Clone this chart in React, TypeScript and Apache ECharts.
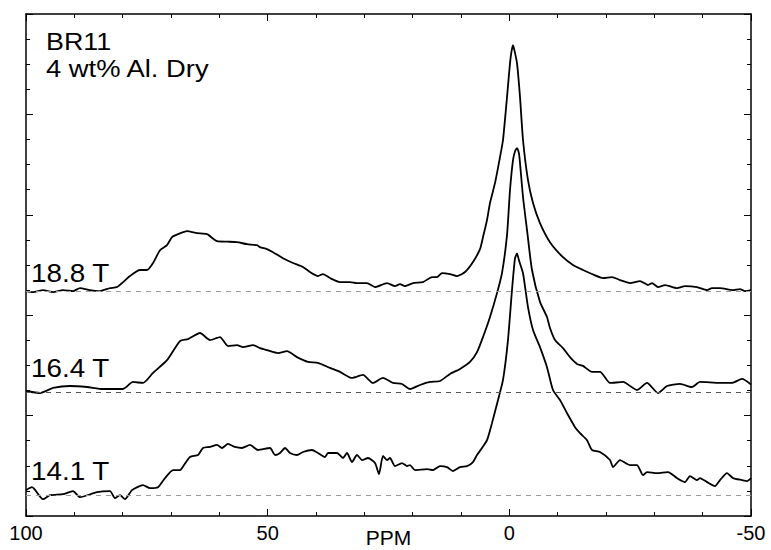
import React, { useEffect, useRef } from "react";
import * as echarts from "echarts";

const FONT = "Liberation Sans, Arial, Helvetica, sans-serif";

const seriesNames = ["18.8 T", "16.4 T", "14.1 T"];
const baselineOffsets = [8.96, 4.94, 0.81];
const xTickLabels = [100, 50, 0, -50];

const ppm188 = [100, 98.55, 96.48, 94.41, 92.34, 90.28, 88.83, 86.76, 84.69, 82.62, 81.17, 78.48, 76.41, 74.97, 73.72, 72.27, 70.83, 69.79, 68.55, 66.69, 64.62, 62.55, 60.48, 58.41, 56.34, 54.28, 52.21, 51.59, 50.14, 48.9, 46.83, 44.76, 42.69, 41.24, 39.59, 38.55, 37.1, 35.03, 32.96, 31.52, 29.45, 27.79, 25.31, 23.66, 22.62, 21.59, 19.93, 17.86, 16.0, 14.97, 13.93, 12.28, 10.83, 9.17, 7.52, 6.07, 5.45, 4.62, 4.0, 2.97, 1.93, 1.31, 0.48, -0.14, -0.45, -0.76, -1.1, -1.59, -2.21, -2.83, -3.86, -4.9, -6.34, -8.41, -11.1, -13.17, -15.24, -17.1, -19.38, -21.24, -22.9, -24.97, -27.03, -28.69, -29.52, -30.76, -32.21, -34.69, -36.34, -38.83, -40.9, -41.93, -43.59, -46.28, -47.72, -48.76, -50];
const int188 = [0, -0.04, 0.04, -0.04, 0.04, 0, 0.12, 0.04, 0, 0.12, 0.16, 0.6, 0.84, 0.84, 1.12, 1.63, 1.83, 2.15, 2.27, 2.39, 2.31, 2.27, 1.99, 1.97, 1.95, 1.87, 1.83, 1.75, 1.67, 1.55, 1.31, 1.12, 0.96, 0.76, 0.6, 0.68, 0.52, 0.36, 0.36, 0.32, 0.32, 0.16, 0.32, 0.2, 0.28, 0.2, 0.32, 0.36, 0.56, 0.56, 0.72, 0.68, 0.6, 0.76, 1.16, 1.67, 2.15, 2.83, 3.51, 4.3, 5.34, 6.02, 7.73, 9.08, 9.55, 9.8, 9.55, 9.08, 7.73, 6.02, 4.42, 3.51, 2.71, 1.95, 1.35, 1.04, 0.84, 0.68, 0.52, 0.56, 0.44, 0.32, 0.4, 0.24, 0.32, 0.16, 0.24, 0.12, 0.2, 0.16, 0.04, 0.12, 0.12, 0.04, 0.08, 0, 0.04];

const ppm164 = [100, 97.1, 94.41, 90.9, 87.38, 84.07, 79.93, 77.86, 75.79, 73.72, 70.83, 68.14, 66.48, 64.0, 61.93, 59.86, 58.21, 56.34, 55.1, 53.03, 51.59, 50.14, 47.86, 46.0, 43.93, 41.66, 39.59, 37.1, 35.03, 32.55, 30.28, 28.21, 26.14, 24.07, 22.21, 20.55, 18.48, 16.41, 14.34, 12.28, 10.21, 8.14, 6.69, 5.45, 4.0, 2.55, 1.52, 0.48, -0.14, -0.76, -1.2, -1.59, -2.0, -2.21, -2.83, -3.66, -4.69, -6.34, -7.79, -8.41, -9.45, -11.1, -12.55, -14.0, -15.24, -17.1, -18.76, -20.83, -23.52, -26.41, -28.48, -30.76, -32.62, -35.31, -37.79, -39.45, -43.59, -46.07, -48.14, -50];
const int164 = [0.04, -0.04, 0.16, 0.24, 0.2, 0.12, 0.12, 0.4, 0.36, 0.76, 1.27, 2.03, 2.11, 2.35, 2.07, 2.19, 1.83, 1.87, 1.79, 1.87, 1.75, 1.67, 1.55, 1.63, 1.39, 1.2, 1.16, 0.96, 0.8, 0.56, 0.68, 0.36, 0.56, 0.36, 0.32, 0.12, 0.28, 0.4, 0.44, 0.72, 0.92, 1.2, 1.59, 2.19, 2.99, 3.94, 4.74, 6.25, 8.05, 9.24, 9.6, 9.72, 9.5, 9.12, 7.77, 6.45, 4.86, 3.59, 2.99, 2.55, 2.07, 1.75, 1.39, 1.12, 1.04, 0.8, 0.8, 0.36, 0.4, 0.08, 0.36, -0.04, 0.24, 0.32, 0.2, 0.4, 0.36, 0.36, 0.52, 0.3];

const ppm141 = [100, 98.76, 96.48, 95.03, 92.34, 90.28, 88.83, 85.31, 82.62, 81.59, 80.55, 79.52, 78.07, 75.79, 74.34, 72.69, 71.24, 69.59, 68.14, 67.72, 66.07, 64.41, 63.38, 61.93, 60.48, 59.45, 58.21, 56.76, 55.31, 53.66, 52.0, 49.52, 48.48, 47.45, 46.41, 45.38, 43.93, 42.69, 40.83, 39.59, 38.14, 37.52, 35.66, 34.41, 33.59, 32.55, 31.52, 30.48, 29.24, 27.79, 26.97, 26.14, 25.31, 24.69, 23.66, 22.21, 21.17, 20.55, 19.52, 17.03, 15.79, 14.34, 12.9, 11.66, 10.21, 8.76, 7.52, 6.69, 5.66, 4.62, 3.59, 2.34, 1.31, 0.28, -0.55, -1.17, -1.59, -2.0, -2.83, -3.86, -4.9, -6.34, -7.79, -9.03, -10.48, -11.93, -13.59, -14.62, -16.07, -17.1, -18.76, -20.83, -21.45, -22.9, -24.97, -26.41, -27.66, -28.48, -30.55, -32.83, -34.69, -36.34, -37.38, -38.83, -39.45, -40.9, -42.55, -43.59, -45.03, -46.28, -48.14, -49.17, -50];
const int141 = [0.22, 0.34, -0.14, 0.02, 0.06, 0.18, -0.06, 0.14, 0.18, -0.1, 0.02, -0.14, 0.22, 0.42, 0.3, 0.34, 0.7, 1.02, 1.02, 1.1, 1.54, 1.62, 1.9, 1.94, 2.02, 1.9, 2.06, 1.94, 1.9, 2.02, 1.82, 1.9, 1.62, 1.7, 1.9, 1.7, 1.62, 1.74, 1.82, 1.7, 1.54, 1.7, 1.7, 1.5, 1.7, 1.34, 1.62, 1.42, 1.5, 1.3, 0.86, 1.58, 1.42, 1.5, 1.18, 1.3, 1.18, 1.22, 1.02, 1.06, 1.02, 1.18, 1.14, 0.98, 1.14, 1.18, 1.34, 1.62, 1.9, 2.21, 2.89, 3.81, 4.61, 6.2, 8.19, 9.45, 9.65, 9.37, 8.86, 7.51, 6.6, 5.92, 5.12, 4.21, 3.81, 3.29, 2.73, 2.49, 2.21, 1.82, 1.74, 1.42, 1.14, 1.42, 1.22, 1.22, 0.82, 0.94, 0.9, 0.94, 0.7, 0.54, 0.78, 0.62, 0.7, 0.54, 0.38, 0.62, 0.9, 0.7, 0.62, 0.58, 0.7];

const traces = [
  { ppm: ppm188, intensity: int188 },
  { ppm: ppm164, intensity: int164 },
  { ppm: ppm141, intensity: int141 },
];

const baselineColors = ["#9a9a9a", "#555555", "#9a9a9a"];
const labelGaps = [18, 24, 24.5];

export default function App() {
  const ref = useRef<HTMLDivElement>(null);

  useEffect(() => {
    if (!ref.current) return;
    const chart = echarts.init(ref.current, undefined, { renderer: "svg" });

    const xBase = {
      type: "value" as const,
      min: -50,
      max: 100,
      inverse: true,
      interval: 50,
      splitLine: { show: false },
      axisLine: { show: true, onZero: false, lineStyle: { color: "#000", width: 1.5 } },
      axisTick: { show: true, inside: true, length: 7, lineStyle: { color: "#000", width: 1 } },
      minorTick: { show: true, splitNumber: 5, length: 4, lineStyle: { color: "#000", width: 1 } },
    };
    const yBase = {
      type: "value" as const,
      min: 0,
      max: 20,
      interval: 4,
      splitLine: { show: false },
      axisLabel: { show: false },
      axisLine: { show: true, onZero: false, lineStyle: { color: "#000", width: 1.5 } },
      axisTick: { show: true, inside: true, length: 7, lineStyle: { color: "#000", width: 1 } },
      minorTick: { show: true, splitNumber: 4, length: 4, lineStyle: { color: "#000", width: 1 } },
    };

    const series = traces.map((t, i) => ({
      name: seriesNames[i],
      type: "line" as const,
      xAxisIndex: 0,
      yAxisIndex: 0,
      data: t.ppm.map((p, k) => [p, t.intensity[k] + baselineOffsets[i]]),
      showSymbol: false,
      symbol: "none",
      smooth: 0.2,
      lineStyle: { color: "#000", width: 1.8 },
      z: 3,
      markLine: {
        silent: true,
        symbol: ["none", "none"],
        label: { show: false },
        lineStyle: { type: [5, 5], color: baselineColors[i], width: 1 },
        data: [{ yAxis: baselineOffsets[i] }],
      },
    }));

    chart.setOption({
      animation: false,
      backgroundColor: "#fff",
      grid: { left: 26, right: 20, top: 14, bottom: 34, containLabel: false, outerBoundsMode: "none" },
      xAxis: [
        {
          ...xBase,
          position: "bottom",
          name: "PPM",
          nameLocation: "middle",
          nameGap: 11,
          nameMoveOverlap: false,
          nameTextStyle: { fontFamily: FONT, fontSize: 21, color: "#000" },
          axisLabel: {
            show: true,
            margin: 7,
            fontFamily: FONT,
            fontSize: 20,
            color: "#000",
            showMinLabel: true,
            showMaxLabel: true,
            formatter: (v: number) => (xTickLabels.includes(v) ? String(v) : ""),
          },
        },
        { ...xBase, position: "top", axisLabel: { show: false } },
      ],
      yAxis: [
        { ...yBase, position: "left" },
        { ...yBase, position: "right" },
      ],
      series,
    });

    const gfx: any[] = [
      {
        type: "text",
        x: 46,
        y: 41.5,
        scaleX: 1.12,
        style: { text: "BR11", font: `24px ${FONT}`, fill: "#000", verticalAlign: "middle" },
      },
      {
        type: "text",
        x: 46,
        y: 69,
        scaleX: 1.14,
        style: { text: "4 wt% Al. Dry", font: `24px ${FONT}`, fill: "#000", verticalAlign: "middle" },
      },
    ];
    seriesNames.forEach((n, i) => {
      const yPix = chart.convertToPixel({ yAxisIndex: 0 }, baselineOffsets[i]) as number;
      gfx.push({
        type: "text",
        x: 31,
        y: yPix - labelGaps[i],
        scaleX: 1.07,
        style: { text: n, font: `26px ${FONT}`, fill: "#000", verticalAlign: "middle" },
      });
    });
    chart.setOption({ graphic: gfx });

    return () => chart.dispose();
  }, []);

  return (
    <div
      ref={ref}
      style={{ position: "absolute", left: 0, top: 0, width: 771, height: 550, background: "#fff" }}
    />
  );
}
